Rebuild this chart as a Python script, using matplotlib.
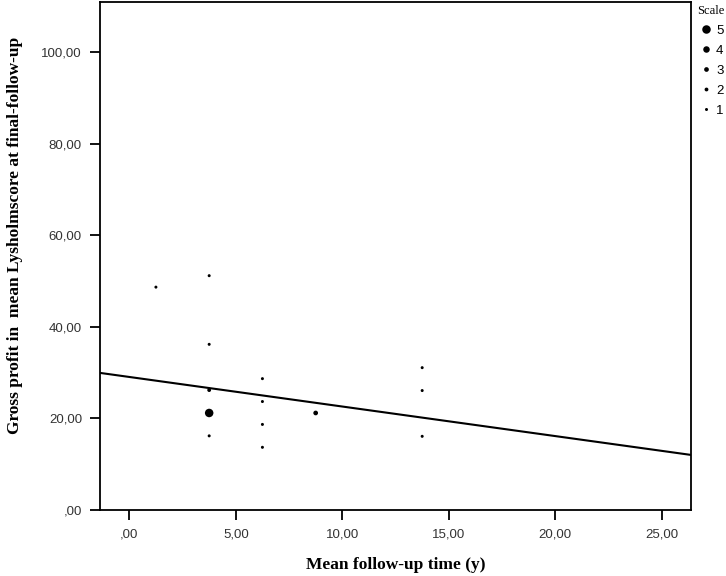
import matplotlib.pyplot as plt
from matplotlib.lines import Line2D

# data
follow_up = [1.25, 3.75, 3.75, 3.75, 3.75, 3.75, 6.25, 6.25, 6.25, 6.25, 8.75, 13.75, 13.75, 13.75]
gross_profit = [48.7, 51.2, 36.2, 26.2, 21.2, 16.2, 28.7, 23.7, 18.7, 13.7, 21.2, 31.1, 26.1, 16.1]
scale = [1, 1, 1, 2, 5, 1, 1, 1, 1, 1, 3, 1, 1, 1]

# fit line (intercept, slope)
fit_intercept = 29.07
fit_slope = -0.646

scale_levels = [5, 4, 3, 2, 1]
# marker diameter in pixels for each scale value
diam_px = {1: 3.0, 2: 3.8, 3: 4.7, 4: 6.5, 5: 8.5}

xlim = (-1.375, 26.37)
ylim = (0, 111)
xticks = [0, 5, 10, 15, 20, 25]
yticks = [0, 20, 40, 60, 80, 100]


def fmt(v):
    s = "%.2f" % v
    s = s.replace(".", ",")
    if s.startswith("0"):
        s = s[1:]
    return s


fig = plt.figure(figsize=(7.26, 5.76), dpi=100)
ax = fig.add_axes([100 / 726, 1 - 510 / 576, 591 / 726, 508 / 576])

sizes = [(diam_px[s] * 0.72) ** 2 for s in scale]
ax.scatter(follow_up, gross_profit, s=sizes, c="black", linewidths=0, zorder=3)

ax.plot(list(xlim), [fit_intercept + fit_slope * x for x in xlim], color="black", lw=1.5, zorder=2)

ax.set_xlim(xlim)
ax.set_ylim(ylim)
ax.set_xticks(xticks)
ax.set_yticks(yticks)
ax.set_xticklabels([fmt(v) for v in xticks], family="Liberation Sans", fontsize=9.5, color="#333333")
ax.set_yticklabels([fmt(v) for v in yticks], family="Liberation Sans", fontsize=9.5, color="#333333")
ax.tick_params(direction="out", length=7, width=1.3, pad=6)

for sp in ax.spines.values():
    sp.set_linewidth(1.3)

ax.set_xlabel("Mean follow-up time (y)", family="Liberation Serif", fontweight="bold", fontsize=12.5)
ax.xaxis.set_label_coords(0.5, -0.092)
ax.set_ylabel("Gross profit in  mean Lysholmscore at final-follow-up", family="Liberation Serif",
              fontweight="bold", fontsize=12.5)
ax.yaxis.set_label_coords(-0.13, 0.54)

handles = [Line2D([], [], ls="none", marker="o", color="black", markeredgewidth=0,
                  markersize=diam_px[s] * 0.72) for s in scale_levels]
leg = ax.legend(handles, [str(s) for s in scale_levels], title="Scale", loc="upper left",
                bbox_to_anchor=(0.995, 1.012), frameon=False, prop={"family": "Liberation Sans", "size": 9.5},
                handletextpad=0.15, handlelength=1.2, labelspacing=0.58, borderpad=0.2,
                title_fontproperties={"family": "Liberation Serif", "size": 9})

fig.savefig("out.png", dpi=100)
